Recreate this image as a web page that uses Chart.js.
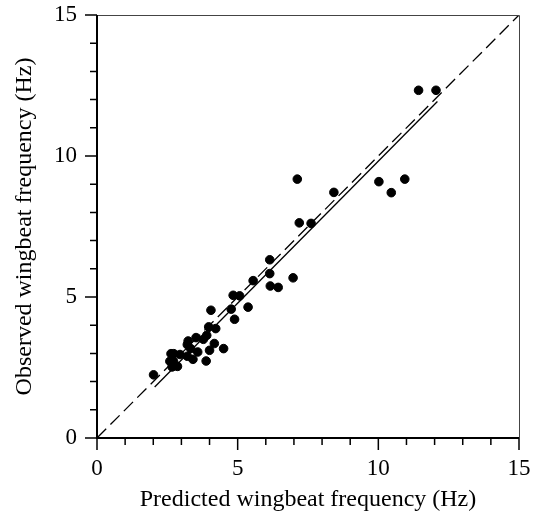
<!DOCTYPE html>
<html>
<head>
<meta charset="utf-8">
<script src="https://cdn.jsdelivr.net/npm/chart.js@4.4.1/dist/chart.umd.min.js"></script>
<style>
	html, body { margin: 0; padding: 0; background: #fff; }
	#wrap { width: 537px; height: 514px; }
</style>
</head>
<body>
<div id="wrap"><canvas id="myChart"></canvas></div>
<script>
// Predicted vs observed wingbeat frequency (Hz)
var predicted = [2.01, 2.63, 2.73, 2.59, 2.72, 2.67, 2.86, 2.95, 3.21, 3.24, 3.21, 3.33, 3.41, 3.52, 3.58,
	3.78, 3.90, 3.97, 4.05, 4.00, 3.88, 4.17, 4.22, 4.50, 4.77, 4.84, 4.89, 5.07, 5.37, 5.55,
	6.14, 6.14, 6.16, 6.44, 6.97, 7.12, 7.19, 7.61, 8.42, 10.02, 10.46, 10.94, 11.43, 12.05];
var observed = [2.24, 2.99, 2.99, 2.72, 2.72, 2.52, 2.54, 2.96, 2.90, 3.44, 3.31, 3.17, 2.79, 3.56, 3.05,
	3.50, 3.64, 3.94, 4.53, 3.11, 2.73, 3.35, 3.88, 3.17, 4.57, 5.06, 4.21, 5.04, 4.64, 5.58,
	6.32, 5.83, 5.39, 5.34, 5.68, 9.18, 7.63, 7.61, 8.71, 9.09, 8.70, 9.18, 12.33, 12.33];
// regression line end points and the 1:1 line
var fitX = [2.05, 12.1];
var fitY = [1.81, 11.93];
var unityX = [0, 15];
var unityY = [0, 15];
var majorTicks = [0, 5, 10, 15];

function pairs(xs, ys) {
	return xs.map(function (x, i) { return { x: x, y: ys[i] }; });
}

var FONT = "'Liberation Serif', 'Times New Roman', serif";

// frame + outward ticks, placed through the scales
var frameTicks = {
	id: 'frameTicks',
	afterDraw: function (chart) {
		var ctx = chart.ctx, a = chart.chartArea;
		var sx = chart.scales.x, sy = chart.scales.y;
		ctx.save();
		ctx.lineWidth = 1;
		ctx.strokeStyle = '#444';
		ctx.beginPath();
		ctx.moveTo(a.left, a.top + 0.5);
		ctx.lineTo(a.right + 0.5, a.top + 0.5);
		ctx.lineTo(a.right + 0.5, a.bottom);
		ctx.stroke();
		ctx.strokeStyle = '#000';
		ctx.lineWidth = 2;
		ctx.beginPath();
		ctx.moveTo(a.left, a.top);
		ctx.lineTo(a.left, a.bottom);
		ctx.lineTo(a.right, a.bottom);
		ctx.stroke();
		ctx.lineWidth = 1.5;
		ctx.beginPath();
		for (var v = 0; v <= 15; v++) {
			var len = majorTicks.indexOf(v) >= 0 ? 12 : 7;
			var px = sx.getPixelForValue(v);
			ctx.moveTo(px, a.bottom);
			ctx.lineTo(px, a.bottom + len);
			var py = sy.getPixelForValue(v);
			ctx.moveTo(a.left, py);
			ctx.lineTo(a.left - len, py);
		}
		ctx.stroke();
		ctx.restore();
	}
};

new Chart(document.getElementById('myChart'), {
	type: 'scatter',
	data: {
		datasets: [
			{
				data: pairs(predicted, observed),
				backgroundColor: '#000',
				borderColor: '#000',
				pointRadius: 4.3,
				pointHoverRadius: 4.3,
			},
			{
				type: 'line',
				data: pairs(unityX, unityY),
				borderColor: '#000',
				borderWidth: 1.3,
				borderDash: [13, 6],
				pointRadius: 0,
				fill: false,
			},
			{
				type: 'line',
				data: pairs(fitX, fitY),
				borderColor: '#000',
				borderWidth: 1.3,
				pointRadius: 0,
				fill: false,
			},
		],
	},
	options: {
		responsive: true,
		maintainAspectRatio: false,
		animation: false,
		events: [],
		layout: { padding: { left: 0, top: 15, right: 18, bottom: 0 } },
		plugins: { legend: { display: false }, tooltip: { enabled: false } },
		scales: {
			x: {
				type: 'linear',
				min: 0,
				max: 15,
				grid: { display: false, drawTicks: false },
				border: { display: false },
				ticks: {
					stepSize: 1,
					autoSkip: false,
					maxRotation: 0,
					padding: 17,
					color: '#000',
					font: { family: FONT, size: 23 },
					callback: function (v) { return majorTicks.indexOf(v) >= 0 ? String(v) : ''; },
				},
				title: {
					display: true,
					text: 'Predicted wingbeat frequency (Hz)',
					color: '#000',
					font: { family: FONT, size: 24 },
					padding: { top: 4, bottom: 0 },
				},
				afterFit: function (s) {
					s.height = 76;
					s.paddingLeft = 0;
					s.paddingRight = 0;
				},
			},
			y: {
				type: 'linear',
				min: 0,
				max: 15,
				grid: { display: false, drawTicks: false },
				border: { display: false },
				ticks: {
					stepSize: 1,
					autoSkip: false,
					padding: 20,
					color: '#000',
					font: { family: FONT, size: 23 },
					callback: function (v) { return majorTicks.indexOf(v) >= 0 ? String(v) : ''; },
				},
				title: {
					display: true,
					text: 'Observed wingbeat frequency (Hz)',
					color: '#000',
					font: { family: FONT, size: 24 },
					padding: { top: 10, bottom: 4 },
				},
				afterFit: function (s) {
					s.width = 97;
					s.paddingTop = 0;
					s.paddingBottom = 0;
				},
			},
		},
	},
	plugins: [frameTicks],
});
</script>
</body>
</html>
